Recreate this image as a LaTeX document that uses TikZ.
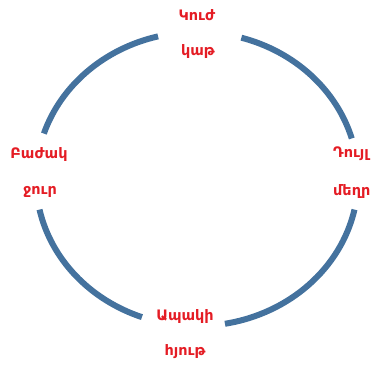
\documentclass[tikz,border=0pt]{standalone}
\usepackage{fontspec}
\newfontfamily\armfont{DejaVu Sans}
\definecolor{ringblue}{RGB}{68,114,158}
\definecolor{labelred}{RGB}{228,28,36}

\begin{document}
\begin{tikzpicture}[x=1bp, y=1bp, font=\armfont\bfseries\fontsize{14.5}{16}\selectfont,
    lbl/.style={text=labelred, inner sep=0pt}]
  \useasboundingbox (0,0) rectangle (375,366);
  \def\rx{161}
  \def\ry{147}
  \coordinate (O) at (197,187);  % ring centre
  % ring pieces
  \foreach \a/\b in {16/74, 104/162, 192/250, 280/348}
    \draw[ringblue, line width=6bp] (O) ++(\a:\rx bp and \ry bp)
      arc[start angle=\a, end angle=\b, x radius=\rx, y radius=\ry];
  % labels
  \node[lbl] (jug)    at (197,351) {Կուժ};
  \node[lbl] (milk)   at (198,314) {կաթ};
  \node[lbl] (cup)    at (39,211)  {Բաժակ};
  \node[lbl] (water)  at (40,174)  {ջուր};
  \node[lbl, anchor=west] (bucket) at (333,212) {Դույլ};
  \node[lbl, anchor=west] (honey)  at (333,174) {մեղր};
  \node[lbl] (glass)  at (185,49)  {Ապակի};
  \node[lbl] (juice)  at (185,14)  {հյութ};
\end{tikzpicture}
\end{document}
